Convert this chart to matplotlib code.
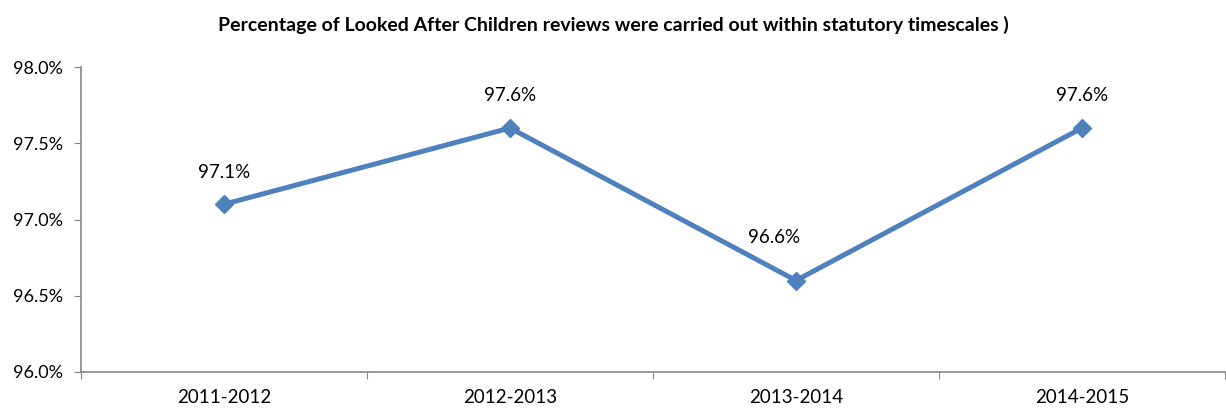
import numpy as np
import matplotlib.pyplot as plt

plt.rcParams['font.family'] = ['Lato', 'DejaVu Sans']

# Data
years = ['2011-2012', '2012-2013', '2013-2014', '2014-2015']
pct = [97.1, 97.6, 96.6, 97.6]
labels = ['97.1%', '97.6%', '96.6%', '97.6%']
y_ticks = [96.0, 96.5, 97.0, 97.5, 98.0]

# label offsets in points (the 2013-2014 label sits up and to the left)
label_offsets = [(0, 17), (0, 17), (-16, 25), (0, 17)]

fig = plt.figure(figsize=(12.26, 4.09), dpi=100)
ax = fig.add_axes([81/1226, 1 - 372/409, 1144/1226, 305/409])

x = np.arange(len(years))
ax.plot(x, pct, color='#4F81BD', lw=3.6, marker='D', ms=9, zorder=3)

for xi, yi, lab, off in zip(x, pct, labels, label_offsets):
    ax.annotate(lab, (xi, yi), xytext=off, textcoords='offset points',
                ha='center', va='bottom', fontsize=13.5, color='#000000')

ax.set_xlim(-0.5, len(years) - 0.5)
ax.set_ylim(96.0, 98.0)
ax.set_yticks(y_ticks)
ax.set_yticklabels([f'{v:.1f}%' for v in y_ticks], fontsize=13)

# category labels centred, tick marks at the boundaries
ax.set_xticks(np.arange(len(years) + 1) - 0.5)
ax.set_xticklabels([])
ax.set_xticks(x, minor=True)
ax.set_xticklabels(years, minor=True, fontsize=13.5)
ax.tick_params(axis='x', which='minor', length=0, pad=12)
ax.tick_params(axis='x', which='major', length=5, color='#868686', direction='out')
ax.tick_params(axis='y', length=5, color='#868686', direction='out', pad=8)

for side in ['top', 'right']:
    ax.spines[side].set_visible(False)
for side in ['left', 'bottom']:
    ax.spines[side].set_color('#868686')
    ax.spines[side].set_linewidth(1.2)

fig.text(0.5, 1 - 25/409, 'Percentage of Looked After Children reviews were carried out within statutory timescales )',
         ha='center', va='center', fontsize=14, fontweight='bold')

fig.savefig('out.png', dpi=100)
